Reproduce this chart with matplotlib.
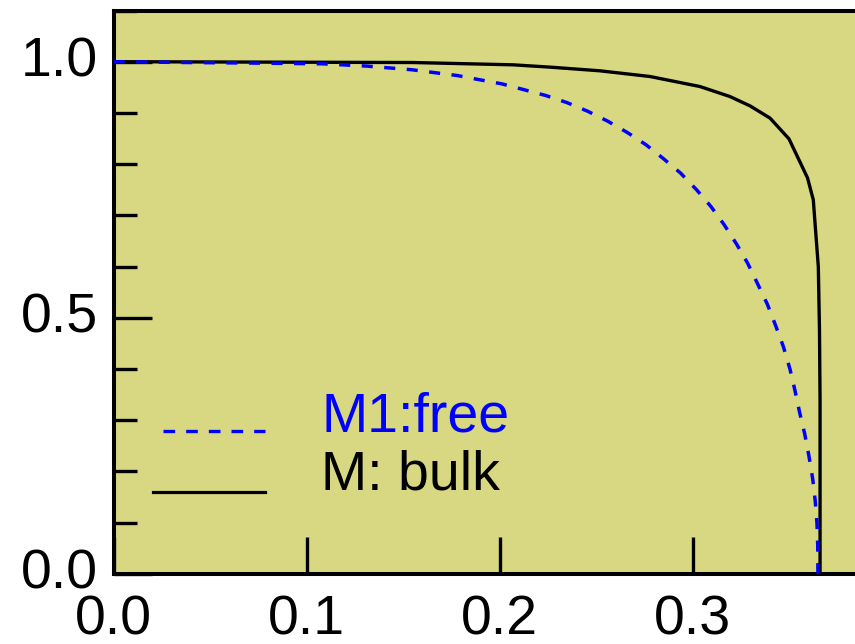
import matplotlib
matplotlib.use("Agg")
import matplotlib.pyplot as plt
from matplotlib.ticker import MultipleLocator
from matplotlib.transforms import ScaledTranslation

plt.rcParams['font.family'] = ['Liberation Sans', 'DejaVu Sans']

# Data
free_x = [0.0, 0.0381, 0.0731, 0.1081, 0.1313, 0.1547, 0.1780, 0.1898, 0.2010,
          0.2122, 0.2238, 0.2347, 0.2454, 0.2559, 0.2661, 0.2758, 0.2847, 0.2937,
          0.3020, 0.3094, 0.3163, 0.3227, 0.3284, 0.3336, 0.3386, 0.3429, 0.3469,
          0.3503, 0.3529, 0.3553, 0.3580, 0.3602, 0.3621, 0.3634, 0.3643, 0.3647,
          0.3648]
free_y = [1.0, 0.9984, 0.9973, 0.9959, 0.9914, 0.9842, 0.9730, 0.9646, 0.9568,
          0.9457, 0.9340, 0.9203, 0.9035, 0.8839, 0.8617, 0.8377, 0.8109, 0.7823,
          0.7497, 0.7171, 0.6813, 0.6436, 0.6065, 0.5660, 0.5264, 0.4846, 0.4435,
          0.4000, 0.3580, 0.3154, 0.2724, 0.2286, 0.1850, 0.1420, 0.0985, 0.0547,
          0.0]

bulk_x = [0.0, 0.1551, 0.2069, 0.2260, 0.2519, 0.2778, 0.3037, 0.3192, 0.3296,
          0.3400, 0.3498, 0.3594, 0.3624, 0.3633, 0.3650, 0.3656, 0.3659, 0.3659]
bulk_y = [1.0, 0.9984, 0.9939, 0.9894, 0.9822, 0.9711, 0.9515, 0.9320, 0.9138,
          0.8898, 0.8493, 0.7732, 0.7302, 0.6846, 0.5998, 0.4762, 0.3394, 0.0]

labels = ["M1:free", "M: bulk"]
xticks = [0.0, 0.1, 0.2, 0.3]
xticklabels = ["0.0", "0.1", "0.2", "0.3"]
yticks = [0.0, 0.5, 1.0]
yticklabels = ["0.0", "0.5", "1.0"]

fig = plt.figure(figsize=(8.55, 6.44), dpi=100)
W, H = 855, 644
left_px, bottom_px, top_px = 113.5, 573.7, 10.5
xmax = 0.4
px_per_unit_x = 1931.0
right_px = left_px + xmax * px_per_unit_x
ax = fig.add_axes([left_px / W, (H - bottom_px) / H,
                   (right_px - left_px) / W, (bottom_px - top_px) / H])
ax.set_facecolor('#d9d882')

ax.plot(bulk_x, bulk_y, color='black', lw=2.4, solid_joinstyle='round', zorder=3)
ax.plot(free_x, free_y, color='#0000ff', lw=2.5, dashes=(3.2, 3.3), zorder=4)

ax.set_xlim(0, xmax)
ax.set_ylim(0, 1.10)

ax.set_xticks(xticks)
ax.set_xticklabels(xticklabels)
ax.set_yticks(yticks)
ax.set_yticklabels(yticklabels)
ax.yaxis.set_minor_locator(MultipleLocator(0.1))

ax.tick_params(axis='both', which='major', direction='in', length=27, width=2.4,
               labelsize=40, color='black')
ax.tick_params(axis='y', which='minor', direction='in', length=16.5, width=2.4)
ax.tick_params(axis='x', which='major', pad=15)
ax.tick_params(axis='y', which='major', pad=11)
ax.tick_params(top=False, right=False)

shift = ScaledTranslation(0, 5 / 100.0, fig.dpi_scale_trans)
for lab in ax.get_yticklabels():
    lab.set_transform(lab.get_transform() + shift)

for s in ['left', 'bottom', 'top']:
    ax.spines[s].set_linewidth(2.9)
ax.spines['right'].set_visible(False)

# legend drawn manually
def px2ax(xp, yp):
    return ((xp - left_px) / (right_px - left_px), (bottom_px - yp) / (bottom_px - top_px))

x0, y0 = px2ax(163, 431)
x1, _ = px2ax(265, 431)
ax.plot([x0, x1], [y0, y0], transform=ax.transAxes, color='#0000ff', lw=2.4,
        dashes=(3.5, 3.3))
x0, y1 = px2ax(153, 492)
ax.plot([x0, x1], [y1, y1], transform=ax.transAxes, color='black', lw=2.3)

tx, ty = px2ax(321, 431)
ax.text(tx, ty, labels[0], transform=ax.transAxes, color='#0000ff', fontsize=40,
        ha='left', va='baseline')
tx, ty = px2ax(321, 490)
ax.text(tx, ty, labels[1], transform=ax.transAxes, color='black', fontsize=40,
        ha='left', va='baseline')

fig.savefig('out.png', dpi=100, facecolor='white')
